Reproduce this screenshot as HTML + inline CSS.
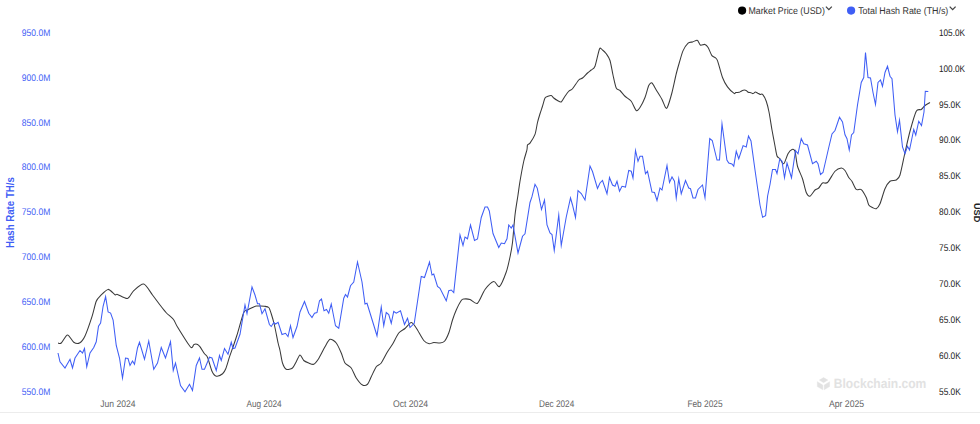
<!DOCTYPE html>
<html><head><meta charset="utf-8"><style>
html,body{margin:0;padding:0;background:#fff;width:980px;height:424px;overflow:hidden}
svg{display:block}
text{font-family:"Liberation Sans",sans-serif}
</style></head><body>
<svg width="980" height="424" viewBox="0 0 980 424">
<rect width="980" height="424" fill="#fff"/>
<line x1="0" y1="412.5" x2="980" y2="412.5" stroke="#ececec" stroke-width="1"/>
<g font-size="9.6" fill="#3f5ef5" text-rendering="geometricPrecision">
<text x="50.3" y="35.70" text-anchor="end" textLength="28.5" lengthAdjust="spacingAndGlyphs">950.0M</text>
<text x="50.3" y="80.60" text-anchor="end" textLength="28.5" lengthAdjust="spacingAndGlyphs">900.0M</text>
<text x="50.3" y="125.50" text-anchor="end" textLength="28.5" lengthAdjust="spacingAndGlyphs">850.0M</text>
<text x="50.3" y="170.40" text-anchor="end" textLength="28.5" lengthAdjust="spacingAndGlyphs">800.0M</text>
<text x="50.3" y="215.30" text-anchor="end" textLength="28.5" lengthAdjust="spacingAndGlyphs">750.0M</text>
<text x="50.3" y="260.20" text-anchor="end" textLength="28.5" lengthAdjust="spacingAndGlyphs">700.0M</text>
<text x="50.3" y="305.10" text-anchor="end" textLength="28.5" lengthAdjust="spacingAndGlyphs">650.0M</text>
<text x="50.3" y="350.00" text-anchor="end" textLength="28.5" lengthAdjust="spacingAndGlyphs">600.0M</text>
<text x="50.3" y="394.90" text-anchor="end" textLength="28.5" lengthAdjust="spacingAndGlyphs">550.0M</text>
</g>
<g font-size="9.6" fill="#222" text-rendering="geometricPrecision">
<text x="939" y="35.70" textLength="26" lengthAdjust="spacingAndGlyphs">105.0K</text>
<text x="939" y="71.62" textLength="26" lengthAdjust="spacingAndGlyphs">100.0K</text>
<text x="939" y="107.54" textLength="21.8" lengthAdjust="spacingAndGlyphs">95.0K</text>
<text x="939" y="143.46" textLength="21.8" lengthAdjust="spacingAndGlyphs">90.0K</text>
<text x="939" y="179.38" textLength="21.8" lengthAdjust="spacingAndGlyphs">85.0K</text>
<text x="939" y="215.30" textLength="21.8" lengthAdjust="spacingAndGlyphs">80.0K</text>
<text x="939" y="251.22" textLength="21.8" lengthAdjust="spacingAndGlyphs">75.0K</text>
<text x="939" y="287.14" textLength="21.8" lengthAdjust="spacingAndGlyphs">70.0K</text>
<text x="939" y="323.06" textLength="21.8" lengthAdjust="spacingAndGlyphs">65.0K</text>
<text x="939" y="358.98" textLength="21.8" lengthAdjust="spacingAndGlyphs">60.0K</text>
<text x="939" y="394.90" textLength="21.8" lengthAdjust="spacingAndGlyphs">55.0K</text>
</g>
<g font-size="9.6" fill="#666" text-rendering="geometricPrecision">
<text x="117.9" y="406.9" text-anchor="middle" textLength="35.2" lengthAdjust="spacingAndGlyphs">Jun 2024</text>
<text x="264" y="406.9" text-anchor="middle" textLength="35.2" lengthAdjust="spacingAndGlyphs">Aug 2024</text>
<text x="410.5" y="406.9" text-anchor="middle" textLength="35.2" lengthAdjust="spacingAndGlyphs">Oct 2024</text>
<text x="556.65" y="406.9" text-anchor="middle" textLength="35.2" lengthAdjust="spacingAndGlyphs">Dec 2024</text>
<text x="705" y="406.9" text-anchor="middle" textLength="35.2" lengthAdjust="spacingAndGlyphs">Feb 2025</text>
<text x="846.55" y="406.9" text-anchor="middle" textLength="35.2" lengthAdjust="spacingAndGlyphs">Apr 2025</text>
</g>
<text transform="translate(13.8,212.6) rotate(-90)" text-anchor="middle" font-size="10.4" font-weight="bold" fill="#3f5ef5" textLength="71" lengthAdjust="spacingAndGlyphs">Hash Rate TH/s</text>
<text transform="translate(973.6,212.6) rotate(90)" text-anchor="middle" font-size="9" font-weight="bold" fill="#222" textLength="19.4" lengthAdjust="spacingAndGlyphs">USD</text>
<g fill="#e2e2e2">
<text x="833.8" y="388.3" font-size="13.3" font-weight="bold" text-rendering="geometricPrecision" textLength="92.5" lengthAdjust="spacingAndGlyphs">Blockchain.com</text>
<path d="M823.6,377.5 L827.9,380.1 L823.6,382.7 L819.3,380.1 Z M817.3,381.7 L822.8,385.1 L822.8,389.8 L817.3,386.6 Z M829.6,381.7 L824.2,385.1 L824.2,389.8 L829.6,386.6 Z" stroke="#e2e2e2" stroke-width="0.4" stroke-linejoin="round"/>
</g>
<path d="M58,343 C58.43,343.00 59.98,344.07 61.25,343 C62.52,341.93 65.83,335.10 67.5,335 C69.17,334.90 72.15,341.18 73.75,342.25 C75.35,343.32 78.00,343.83 79.5,343 C81.00,342.17 83.35,339.48 85,336 C86.65,332.52 90.40,321.53 91.9,316.9 C93.40,312.27 95.09,304.09 96.25,301.25 C97.41,298.41 99.02,297.18 100.6,295.6 C102.18,294.02 106.18,289.51 108.1,289.4 C110.02,289.29 113.75,294.08 115,294.75 C116.25,295.42 115.83,293.90 117.5,294.4 C119.17,294.90 125.33,299.01 127.5,298.5 C129.67,297.99 131.58,292.53 133.75,290.6 C135.92,288.67 141.25,283.41 143.75,284 C146.25,284.59 150.33,292.20 152.5,295 C154.67,297.80 158.17,302.63 160,305 C161.83,307.37 164.45,310.82 166.25,312.75 C168.05,314.68 172.00,317.60 173.5,319.5 C175.00,321.40 175.23,323.33 177.5,327 C179.77,330.67 188.30,344.68 190.5,347 C192.70,349.32 193.05,344.75 194,344.4 C194.95,344.05 196.79,344.07 197.6,344.4 C198.41,344.73 199.18,345.65 200.1,346.9 C201.02,348.15 203.50,352.34 204.5,353.75 C205.50,355.16 206.60,355.17 207.6,357.5 C208.60,359.83 210.83,368.75 212,371.25 C213.17,373.75 214.99,375.92 216.4,376.25 C217.81,376.58 221.35,374.75 222.6,373.75 C223.85,372.75 224.83,371.00 225.75,368.75 C226.67,366.50 228.50,359.90 229.5,356.9 C230.50,353.90 232.25,349.17 233.25,346.25 C234.25,343.33 235.60,339.50 237,335 C238.40,330.50 242.35,315.83 243.75,312.5 C245.15,309.17 246.33,310.67 247.5,310 C248.67,309.33 251.33,308.03 252.5,307.5 C253.67,306.97 255.25,306.20 256.25,306 C257.25,305.80 258.91,305.97 260,306 C261.09,306.03 263.23,306.05 264.4,306.25 C265.57,306.45 267.84,306.50 268.75,307.5 C269.66,308.50 270.50,311.42 271.25,313.75 C272.00,316.08 273.49,321.10 274.4,325 C275.31,328.90 277.35,339.60 278.1,343 C278.85,346.40 279.41,347.83 280,350.5 C280.59,353.17 281.67,360.50 282.5,363 C283.33,365.50 284.92,368.58 286.25,369.25 C287.58,369.92 291.17,369.00 292.5,368 C293.83,367.00 295.25,363.48 296.25,361.75 C297.25,360.02 299.00,355.17 300,355 C301.00,354.83 302.58,359.43 303.75,360.5 C304.92,361.57 307.42,362.50 308.75,363 C310.08,363.50 312.42,364.85 313.75,364.25 C315.08,363.65 317.25,360.83 318.75,358.5 C320.25,356.17 323.50,349.32 325,346.75 C326.50,344.18 328.50,339.75 330,339.25 C331.50,338.75 334.75,341.17 336.25,343 C337.75,344.83 340.08,350.33 341.25,353 C342.42,355.67 343.67,361.00 345,363 C346.33,365.00 349.75,366.00 351.25,368 C352.75,370.00 354.75,375.73 356.25,378 C357.75,380.27 361.00,384.17 362.5,385 C364.00,385.83 366.33,385.35 367.5,384.25 C368.67,383.15 370.08,379.08 371.25,376.75 C372.42,374.42 374.92,368.58 376.25,366.75 C377.58,364.92 379.75,365.00 381.25,363 C382.75,361.00 386.00,354.25 387.5,351.75 C389.00,349.25 391.00,346.75 392.5,344.25 C394.00,341.75 397.08,335.10 398.75,333 C400.42,330.90 403.33,329.90 405,328.5 C406.67,327.10 409.75,322.57 411.25,322.5 C412.75,322.43 414.58,325.60 416.25,328 C417.92,330.40 422.02,338.40 423.75,340.5 C425.48,342.60 427.92,343.48 429.25,343.75 C430.58,344.02 432.32,342.60 433.75,342.5 C435.18,342.40 438.57,343.17 440,343 C441.43,342.83 443.33,342.58 444.5,341.25 C445.67,339.92 447.68,335.83 448.75,333 C449.82,330.17 451.50,323.07 452.5,320 C453.50,316.93 455.08,312.60 456.25,310 C457.42,307.40 460.22,301.97 461.25,300.5 C462.28,299.03 462.83,299.13 464,299 C465.17,298.87 468.20,298.93 470,299.5 C471.80,300.07 475.50,304.58 477.5,303.25 C479.50,301.92 482.83,292.40 485,289.5 C487.17,286.60 491.82,281.90 493.75,281.5 C495.68,281.10 497.83,287.77 499.5,286.5 C501.17,285.23 504.85,275.93 506.25,272 C507.65,268.07 509.17,260.93 510,257 C510.83,253.07 511.83,248.10 512.5,242.5 C513.17,236.90 514.27,221.33 515,215 C515.73,208.67 517.33,199.50 518,195 C518.67,190.50 519.23,185.75 520,181.25 C520.77,176.75 522.83,165.42 523.75,161.25 C524.67,157.08 526.40,152.17 526.9,150 C527.40,147.83 527.09,145.92 527.5,145 C527.91,144.08 529.00,144.51 530,143.1 C531.00,141.69 534.00,137.15 535,134.4 C536.00,131.65 536.83,125.25 537.5,122.5 C538.17,119.75 539.33,115.92 540,113.75 C540.67,111.58 541.83,108.35 542.5,106.25 C543.17,104.15 544.27,99.33 545,98 C545.73,96.67 547.17,96.58 548,96.25 C548.83,95.92 550.48,95.27 551.25,95.5 C552.02,95.73 552.92,97.33 553.75,98 C554.58,98.67 556.50,99.97 557.5,100.5 C558.50,101.03 560.25,102.57 561.25,102 C562.25,101.43 564.00,97.68 565,96.25 C566.00,94.82 567.75,92.25 568.75,91.25 C569.75,90.25 571.17,90.25 572.5,88.75 C573.83,87.25 577.42,81.43 578.75,80 C580.08,78.57 581.33,78.93 582.5,78 C583.67,77.07 586.33,74.07 587.5,73 C588.67,71.93 590.25,70.90 591.25,70 C592.25,69.10 593.90,69.05 595,66.25 C596.10,63.45 598.50,51.17 599.5,49 C600.50,46.83 601.60,49.37 602.5,50 C603.40,50.63 605.25,52.35 606.25,53.75 C607.25,55.15 609.10,57.67 610,60.5 C610.90,63.33 612.17,71.33 613,75 C613.83,78.67 615.32,85.93 616.25,88 C617.18,90.07 618.83,89.40 620,90.5 C621.17,91.60 623.50,94.82 625,96.25 C626.50,97.68 629.75,99.35 631.25,101.25 C632.75,103.15 635.08,109.67 636.25,110.5 C637.42,111.33 638.83,109.23 640,107.5 C641.17,105.77 643.83,100.43 645,97.5 C646.17,94.57 647.82,87.43 648.75,85.5 C649.68,83.57 651.00,82.40 652,83 C653.00,83.60 654.92,87.80 656.25,90 C657.58,92.20 660.77,97.17 662,99.5 C663.23,101.83 664.77,106.50 665.5,107.5 C666.23,108.50 666.63,109.00 667.5,107 C668.37,105.00 670.83,96.93 672,92.5 C673.17,88.07 675.25,77.82 676.25,73.75 C677.25,69.68 678.59,65.09 679.5,62 C680.41,58.91 681.95,53.12 683.1,50.6 C684.25,48.08 686.85,44.26 688.1,43.1 C689.35,41.94 691.33,42.28 692.5,41.9 C693.67,41.52 696.17,40.37 696.9,40.25 C697.63,40.13 697.51,40.33 698,41 C698.49,41.67 699.67,44.80 700.6,45.25 C701.53,45.70 704.00,44.10 705,44.4 C706.00,44.70 707.18,46.01 708.1,47.5 C709.02,48.99 710.98,54.27 711.9,55.6 C712.82,56.93 714.25,56.83 715,57.5 C715.75,58.17 716.50,57.93 717.5,60.6 C718.50,63.27 721.17,73.99 722.5,77.5 C723.83,81.01 725.95,84.78 727.5,86.9 C729.05,89.02 732.99,92.65 734.1,93.4 C735.21,94.15 735.12,92.65 735.8,92.5 C736.48,92.35 738.49,92.47 739.2,92.3 C739.91,92.13 740.55,91.48 741.1,91.2 C741.65,90.92 742.62,90.31 743.3,90.2 C743.98,90.09 745.55,90.12 746.2,90.4 C746.85,90.68 747.57,91.99 748.2,92.3 C748.83,92.61 750.25,92.53 750.9,92.7 C751.55,92.87 752.50,93.68 753.1,93.6 C753.70,93.52 754.79,92.15 755.4,92.1 C756.01,92.05 757.05,92.89 757.7,93.2 C758.35,93.51 759.65,94.24 760.3,94.4 C760.95,94.56 761.81,93.49 762.6,94.4 C763.39,95.31 765.40,98.90 766.25,101.25 C767.10,103.60 768.23,108.17 769,112 C769.77,115.83 771.20,125.47 772,130 C772.80,134.53 774.33,142.53 775,146 C775.67,149.47 776.33,154.30 777,156 C777.67,157.70 779.10,157.72 780,158.75 C780.90,159.78 782.68,164.42 783.75,163.75 C784.82,163.08 786.90,155.65 788,153.75 C789.10,151.85 791.07,149.83 792,149.5 C792.93,149.17 794.27,149.02 795,151.25 C795.73,153.48 796.50,162.58 797.5,166.25 C798.50,169.92 801.33,175.25 802.5,178.75 C803.67,182.25 805.25,190.17 806.25,192.5 C807.25,194.83 808.83,196.58 810,196.25 C811.17,195.92 813.83,191.10 815,190 C816.17,188.90 817.75,188.93 818.75,188 C819.75,187.07 821.33,183.73 822.5,183 C823.67,182.27 825.83,184.07 827.5,182.5 C829.17,180.93 833.17,173.18 835,171.25 C836.83,169.32 839.92,168.10 841.25,168 C842.58,167.90 844.00,169.23 845,170.5 C846.00,171.77 847.83,176.07 848.75,177.5 C849.67,178.93 850.90,179.66 851.9,181.25 C852.90,182.84 855.00,188.29 856.25,189.4 C857.50,190.51 859.92,188.52 861.25,189.6 C862.58,190.68 865.25,195.45 866.25,197.5 C867.25,199.55 867.92,203.67 868.75,205 C869.58,206.33 871.50,207.00 872.5,207.5 C873.50,208.00 875.25,209.25 876.25,208.75 C877.25,208.25 878.83,206.42 880,203.75 C881.17,201.08 883.67,191.75 885,188.75 C886.33,185.75 888.50,182.42 890,181.25 C891.50,180.08 894.92,180.83 896.25,180 C897.58,179.17 898.83,178.67 900,175 C901.17,171.33 903.67,158.33 905,152.5 C906.33,146.67 908.50,136.75 910,131.25 C911.50,125.75 914.75,114.15 916.25,111.25 C917.75,108.35 920.08,110.27 921.25,109.5 C922.42,108.73 923.83,106.43 925,105.5 C926.17,104.57 929.33,102.90 930,102.5" fill="none" stroke="#3a3a3a" stroke-width="1.05" stroke-linejoin="round"/>
<polyline points="58,353 60,361.75 65,368 70,359.25 72.5,368 75,358 80,350.5 82.5,353 84.5,348.5 86.75,366.75 90,353 93.75,347.5 96.25,341.75 98.5,326.25 100.6,323.1 103.1,306.25 105.6,296.6 108.1,311.9 110.6,313.1 113.1,320 116.25,345.5 119.5,358 122.5,378 125.5,358 128,358.5 130,365.5 132.5,361 134.5,364.25 137.5,348 139.5,342.25 144.5,359.25 148.75,341 153.75,369.25 157.5,363 161.25,347.5 165.5,358 170.5,341.75 173.25,370.5 175.5,363 180.5,385.5 185,391.75 189.5,384.25 192.5,390.5 196.25,365.5 199.5,358 202,369.25 204.5,369.25 209.5,357.25 212,358 216.25,370.5 219.5,355.5 221.25,360.5 224.5,348.5 228,354.25 231.25,342.25 233,348.5 235,348 240,334.25 245,305 247,313.75 252,287 255,295 257.5,303.75 259.5,303.75 262,313.75 265,308.75 269.4,324.5 271.25,326.5 273.75,322.5 275.6,324 278.1,322.25 282,334.5 285.5,333.25 288,336.5 290.5,325.75 293,337.5 297,326.5 300,312 304.5,301.5 308.75,313.25 312,317.5 314.5,313.25 317,312.5 319.5,300.75 321.5,299 324,310.75 326.5,309.5 328.75,313.25 331.25,304 335.5,325.75 338.75,328.25 343.75,298.25 345.5,294.5 347.5,297 350.5,285.75 353.75,282 357.5,262 362,282 365,304 367,303.25 371.25,317 377,335.75 381.25,307 383.75,325.75 386.25,312.5 388.75,314.5 391.25,323.25 393.75,311.5 396.25,313.25 400.5,310.75 404.5,324.5 407.5,318.25 410,327.5 414.25,323.25 421.25,276.5 424.5,277.5 429.5,262 432,275 433.75,274 437.5,286.5 440,288.25 446.25,300.8 448.75,290.75 451.25,290 453.75,292.5 460,235 463,245.5 465,237 467.5,238.75 470.5,225 474.5,240.5 477.5,239 481.25,217.5 485,207 487.5,207 489.3,211 493,233.5 498.75,247.5 501.25,243 504.5,243.75 507,238.75 508.75,225 511.25,228 513,225 518,253 522.5,236.25 525,233.75 530,202.5 531.9,196.9 535,184.4 537.25,188.1 541.5,209.5 544.5,200 547,225 550,233 552,234.5 554.25,250.5 558.75,215 561.25,245.5 566.25,217 570.5,198 572.5,205 575.5,217.5 578,190.5 581.25,193.5 585,200 590,166 592.5,171.5 597.5,188.5 600,183 602.5,180.5 607,193.75 609.5,177.5 612.5,185 615,186.25 617,181.25 619.5,191.25 622,186.25 625.5,187 628.75,170.5 631.25,171.25 633,178 635.5,150.5 638,161.25 640,156.25 642.5,156.25 645.5,173.75 647.5,171.25 652,192 654.5,192.5 657,200.5 660,188 662,190 667,165.5 669.5,182.5 672,177 674.5,181.25 676.25,198 678.75,178.75 681.25,193.75 685.5,180.5 688.75,188 690.5,188.75 693,198 695.5,198 698,189.5 702.5,185 705,197.75 709.75,138.5 712.25,140.5 717,160 719.5,160 722,123.8 726.9,160 728.75,163 731.9,164 733.75,166.2 736.25,151.25 738.75,158.75 743.1,145.6 746.25,146.9 748.5,136 751,141 755,170 760,205 762.6,217.3 765.6,215.6 767.6,196 770,184.5 772.5,169.5 775.5,169.5 777,173.5 779.75,159 782,161.25 784.5,177.75 787,163 791.5,177.75 795.5,150.5 798,153.75 801.25,138.5 803.75,143.75 807.5,145 812.5,163.75 816.25,161.25 818,163.75 820.5,174.5 823,172.5 828.75,147.5 832,134 835,130.5 839.5,117.25 842.5,122 845,134.75 847,138.75 849.25,150 851.5,135 853.75,132.5 857.5,105 861.25,82.5 863.75,77.5 865.5,52.5 868,77.5 870.5,78 873,92.5 875.5,104.5 878,82.5 880.5,80 882.5,86.25 885,72.5 887.5,66.25 890,76.25 892,78.75 895,115 897.5,131.75 899.5,120.25 902.5,147 905,153.75 907.5,146.25 909.5,150 913.75,129.5 915.75,135 918.75,121.25 921.5,125.5 924,112 925.3,91.3 928.3,91.6" fill="none" stroke="#3f5ef5" stroke-width="1.05" stroke-linejoin="miter" stroke-miterlimit="10"/>
<circle cx="742.1" cy="10.6" r="4.1" fill="#000"/>
<text x="748.4" y="13.95" font-size="9.8" fill="#333" text-rendering="geometricPrecision" textLength="76.5" lengthAdjust="spacingAndGlyphs">Market Price (USD)</text>
<path d="M825.9,6.6 L828.85,9.6 L831.8,6.6" fill="none" stroke="#444" stroke-width="1.3"/>
<circle cx="851.1" cy="10.6" r="4.1" fill="#3f5ef5"/>
<text x="858.2" y="13.95" font-size="9.8" fill="#333" text-rendering="geometricPrecision" textLength="90.1" lengthAdjust="spacingAndGlyphs">Total Hash Rate (TH/s)</text>
<path d="M949.7,6.6 L952.65,9.6 L955.6,6.6" fill="none" stroke="#444" stroke-width="1.3"/>
</svg>
</body></html>
